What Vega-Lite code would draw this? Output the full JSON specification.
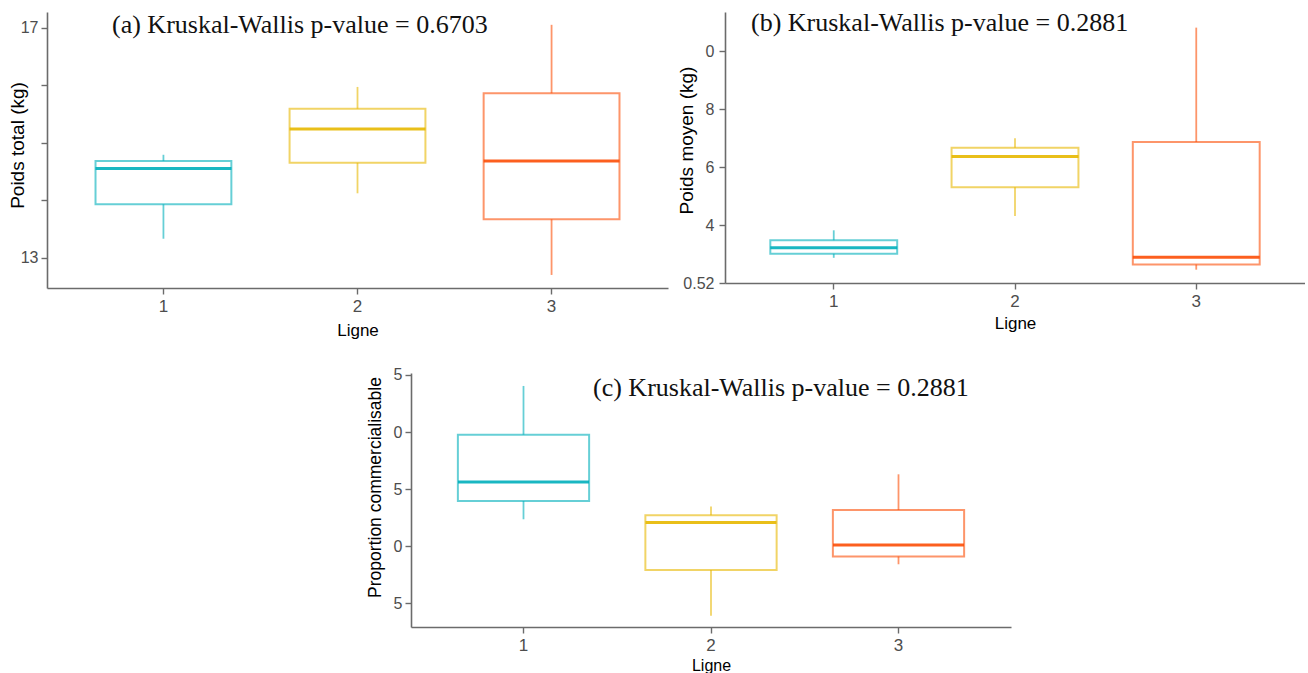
{
  "$schema": "https://vega.github.io/schema/vega-lite/v6.json",
  "padding": {"left": 8, "top": 10, "right": 0, "bottom": 0},
  "background": "white",
  "datasets": {
    "stats": [
      {"panel": "a", "ligne": "1", "lower": 13.33, "q1": 13.93, "median": 14.55, "q3": 14.68, "upper": 14.79},
      {"panel": "a", "ligne": "2", "lower": 14.12, "q1": 14.65, "median": 15.24, "q3": 15.59, "upper": 15.97},
      {"panel": "a", "ligne": "3", "lower": 12.70, "q1": 13.67, "median": 14.68, "q3": 15.86, "upper": 17.05},
      {"panel": "b", "ligne": "1", "lower": 2.87, "q1": 3.01, "median": 3.22, "q3": 3.48, "upper": 3.82},
      {"panel": "b", "ligne": "2", "lower": 4.31, "q1": 5.31, "median": 6.37, "q3": 6.67, "upper": 7.00},
      {"panel": "b", "ligne": "3", "lower": 2.46, "q1": 2.64, "median": 2.89, "q3": 6.87, "upper": 10.82},
      {"panel": "c", "ligne": "1", "lower": 72.36, "q1": 73.97, "median": 75.63, "q3": 79.77, "upper": 84.04},
      {"panel": "c", "ligne": "2", "lower": 63.90, "q1": 67.92, "median": 72.07, "q3": 72.71, "upper": 73.47},
      {"panel": "c", "ligne": "3", "lower": 68.42, "q1": 69.09, "median": 70.11, "q3": 73.18, "upper": 76.30}
    ]
  },
  "vconcat": [
    {
      "hconcat": [
        {
          "width": 621,
          "height": 276,
          "title": {"text": "(a) Kruskal-Wallis p-value = 0.6703", "dx": 65, "dy": 30},
          "data": {"name": "stats"},
          "transform": [{"filter": "datum.panel === 'a'"}],
          "encoding": {
            "x": {"field": "ligne", "type": "nominal", "scale": {"paddingInner": 0, "paddingOuter": 0.1}, "axis": {"title": "Ligne", "titlePadding": 8}}
          },
          "layer": [
            {
              "mark": {"type": "rule", "strokeWidth": 1.8, "strokeOpacity": 0.6},
              "encoding": {
                "y": {"field": "lower", "type": "quantitative", "scale": {"domain": [12.473, 17.273], "nice": false, "zero": false}, "axis": {"title": "Poids total (kg)", "values": [13, 14, 15, 16, 17], "labelExpr": "datum.value == 17 || datum.value == 13 ? datum.label : ''", "titlePadding": -7, "titleY": 133}},
                "y2": {"field": "upper"},
                "stroke": {"field": "ligne", "type": "nominal", "scale": {"domain": ["1", "2", "3"], "range": ["#00AFBB", "#E7B800", "#FC4E07"]}, "legend": null}
              }
            },
            {
              "mark": {"type": "bar", "fill": "white", "strokeWidth": 2, "strokeOpacity": 0.6, "width": {"band": 0.7}},
              "encoding": {
                "y": {"field": "q1", "type": "quantitative", "axis": {"title": "Poids total (kg)", "values": [13, 14, 15, 16, 17], "labelExpr": "datum.value == 17 || datum.value == 13 ? datum.label : ''", "titlePadding": -7, "titleY": 133}},
                "y2": {"field": "q3"},
                "stroke": {"field": "ligne", "type": "nominal", "legend": null}
              }
            },
            {
              "mark": {"type": "tick", "thickness": 3, "size": 136, "opacity": 0.9},
              "encoding": {
                "y": {"field": "median", "type": "quantitative", "axis": {"title": "Poids total (kg)", "values": [13, 14, 15, 16, 17], "labelExpr": "datum.value == 17 || datum.value == 13 ? datum.label : ''", "titlePadding": -7, "titleY": 133}},
                "color": {"field": "ligne", "type": "nominal", "scale": {"domain": ["1", "2", "3"], "range": ["#00AFBB", "#E7B800", "#FC4E07"]}, "legend": null}
              }
            }
          ]
        },
        {
          "width": 580,
          "height": 271,
          "title": {"text": "(b) Kruskal-Wallis p-value = 0.2881", "dx": 26, "dy": 28},
          "data": {"name": "stats"},
          "transform": [{"filter": "datum.panel === 'b'"}],
          "encoding": {
            "x": {"field": "ligne", "type": "nominal", "scale": {"paddingInner": 0, "paddingOuter": 0.1}, "axis": {"title": "Ligne", "titlePadding": 6}}
          },
          "layer": [
            {
              "mark": {"type": "rule", "strokeWidth": 1.8, "strokeOpacity": 0.6},
              "encoding": {
                "y": {"field": "lower", "type": "quantitative", "scale": {"domain": [2, 11.36], "nice": false, "zero": false}, "axis": {"title": "Poids moyen (kg)", "values": [2, 4, 6, 8, 10], "labelExpr": "datum.value == 10 ? '0' : (datum.value == 2 ? '0.52' : datum.label)", "titlePadding": -14, "titleY": 128, "labelPadding": 5}},
                "y2": {"field": "upper"},
                "stroke": {"field": "ligne", "type": "nominal", "scale": {"domain": ["1", "2", "3"], "range": ["#00AFBB", "#E7B800", "#FC4E07"]}, "legend": null}
              }
            },
            {
              "mark": {"type": "bar", "fill": "white", "strokeWidth": 2, "strokeOpacity": 0.6, "width": {"band": 0.7}},
              "encoding": {
                "y": {"field": "q1", "type": "quantitative", "axis": {"title": "Poids moyen (kg)", "values": [2, 4, 6, 8, 10], "labelExpr": "datum.value == 10 ? '0' : (datum.value == 2 ? '0.52' : datum.label)", "titlePadding": -14, "titleY": 128, "labelPadding": 5}},
                "y2": {"field": "q3"},
                "stroke": {"field": "ligne", "type": "nominal", "legend": null}
              }
            },
            {
              "mark": {"type": "tick", "thickness": 3, "size": 127, "opacity": 0.9},
              "encoding": {
                "y": {"field": "median", "type": "quantitative", "axis": {"title": "Poids moyen (kg)", "values": [2, 4, 6, 8, 10], "labelExpr": "datum.value == 10 ? '0' : (datum.value == 2 ? '0.52' : datum.label)", "titlePadding": -14, "titleY": 128, "labelPadding": 5}},
                "color": {"field": "ligne", "type": "nominal", "scale": {"domain": ["1", "2", "3"], "range": ["#00AFBB", "#E7B800", "#FC4E07"]}, "legend": null}
              }
            }
          ]
        }
      ],
      "spacing": 57,
      "bounds": "flush"
    },
    {
      "hconcat": [
        {
          "width": 354,
          "height": 254,
          "data": {"values": [{"spacer": 0}]},
          "mark": {"type": "rule", "opacity": 0},
          "encoding": {}
        },
        {
          "width": 600,
          "height": 254,
          "title": {"text": "(c) Kruskal-Wallis p-value = 0.2881", "dx": 182, "dy": 38},
          "data": {"name": "stats"},
          "transform": [{"filter": "datum.panel === 'c'"}],
          "encoding": {
            "x": {"field": "ligne", "type": "nominal", "scale": {"paddingInner": 0, "paddingOuter": 0.1}, "axis": {"title": "Ligne", "titleFontSize": 16, "titlePadding": 4}}
          },
          "layer": [
            {
              "mark": {"type": "rule", "strokeWidth": 1.8, "strokeOpacity": 0.6},
              "encoding": {
                "y": {"field": "lower", "type": "quantitative", "scale": {"domain": [62.924, 85.175], "nice": false, "zero": false}, "axis": {"title": "Proportion commercialisable", "titleFontSize": 17.5, "values": [65, 70, 75, 80, 85], "labelExpr": "substring(datum.label, 1)", "titlePadding": 9, "titleY": 114}},
                "y2": {"field": "upper"},
                "stroke": {"field": "ligne", "type": "nominal", "scale": {"domain": ["1", "2", "3"], "range": ["#00AFBB", "#E7B800", "#FC4E07"]}, "legend": null}
              }
            },
            {
              "mark": {"type": "bar", "fill": "white", "strokeWidth": 2, "strokeOpacity": 0.6, "width": {"band": 0.7}},
              "encoding": {
                "y": {"field": "q1", "type": "quantitative", "axis": {"title": "Proportion commercialisable", "titleFontSize": 17.5, "values": [65, 70, 75, 80, 85], "labelExpr": "substring(datum.label, 1)", "titlePadding": 9, "titleY": 114}},
                "y2": {"field": "q3"},
                "stroke": {"field": "ligne", "type": "nominal", "legend": null}
              }
            },
            {
              "mark": {"type": "tick", "thickness": 3, "size": 131, "opacity": 0.9},
              "encoding": {
                "y": {"field": "median", "type": "quantitative", "axis": {"title": "Proportion commercialisable", "titleFontSize": 17.5, "values": [65, 70, 75, 80, 85], "labelExpr": "substring(datum.label, 1)", "titlePadding": 9, "titleY": 114}},
                "color": {"field": "ligne", "type": "nominal", "scale": {"domain": ["1", "2", "3"], "range": ["#00AFBB", "#E7B800", "#FC4E07"]}, "legend": null}
              }
            }
          ]
        }
      ],
      "spacing": 10,
      "bounds": "flush"
    }
  ],
  "spacing": 28,
  "bounds": "full",
  "resolve": {"scale": {"x": "independent", "y": "independent"}},
  "config": {
    "view": {"stroke": null},
    "axis": {
      "domainColor": "#6b6b6b",
      "domainWidth": 1.6,
      "tickColor": "#6b6b6b",
      "tickWidth": 1.4,
      "tickSize": 6,
      "grid": false,
      "labelFont": "Liberation Sans",
      "labelFontSize": 16,
      "labelColor": "#4d4d4d",
      "titleFont": "Liberation Sans",
      "titleFontSize": 19,
      "titleColor": "#000000",
      "titleFontWeight": "normal"
    },
    "axisX": {"labelAngle": 0, "labelPadding": 4, "titlePadding": 4, "labelFontSize": 17, "titleFontSize": 17},
    "axisY": {"labelPadding": 3},
    "title": {
      "font": "Liberation Serif",
      "fontSize": 26,
      "fontWeight": "normal",
      "color": "#111111",
      "anchor": "start",
      "frame": "group",
      "offset": 0,
      "baseline": "alphabetic"
    }
  }
}
